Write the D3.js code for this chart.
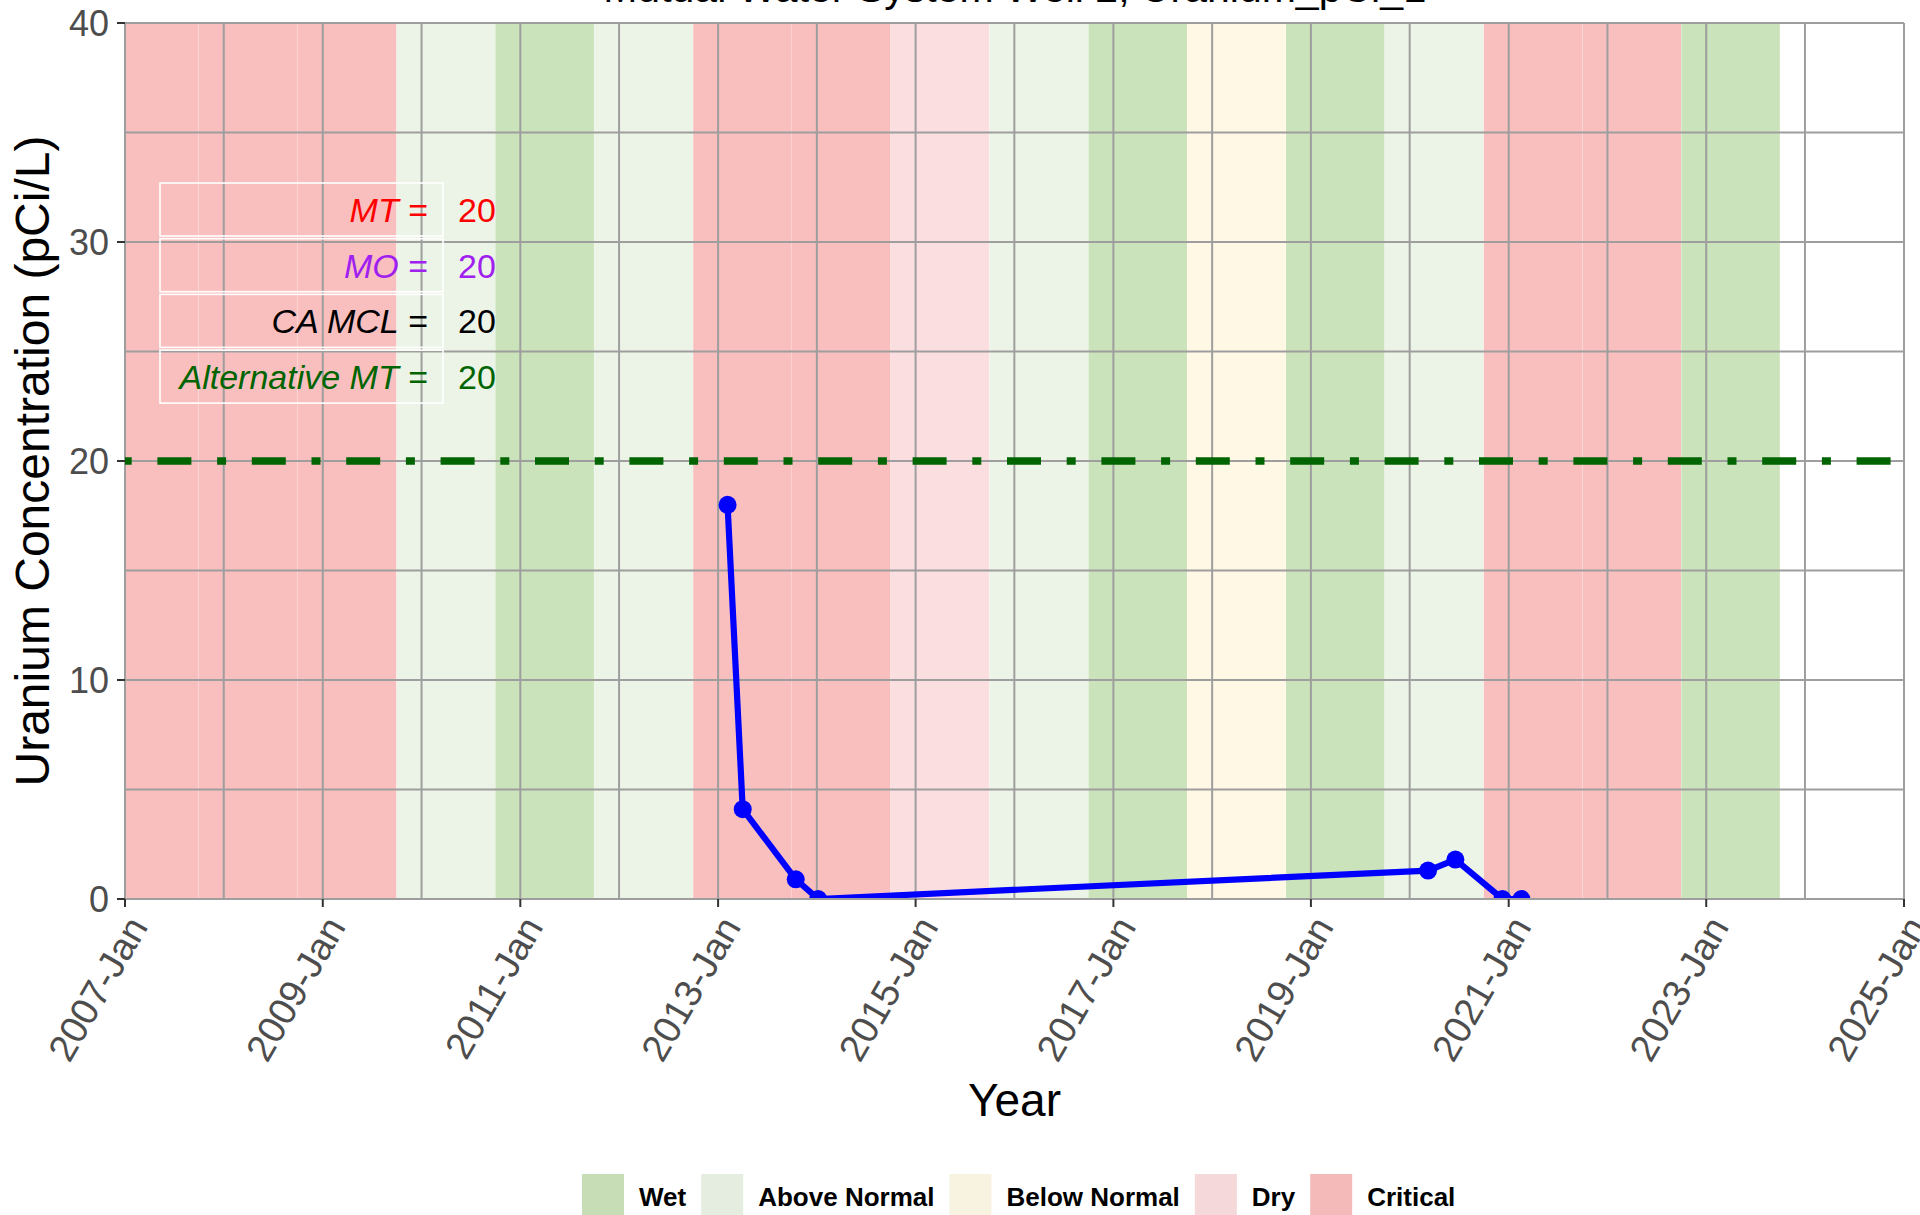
<!DOCTYPE html>
<html>
<head>
<meta charset="utf-8">
<script src="https://cdn.jsdelivr.net/npm/d3@7"></script>
<style>
  html, body { margin: 0; padding: 0; background: #ffffff; }
  svg { display: block; font-family: "Liberation Sans", Arial, sans-serif; }
</style>
</head>
<body>
<svg id="chart" width="1920" height="1215"></svg>
<script>
// ---------------- data ----------------
const titleText = "Mutual Water System Well 2, Uranium_pCi_L";
const sampleDates = ["2013-02-05", "2013-04-02", "2013-10-15", "2014-01-06",
                     "2020-03-09", "2020-06-18", "2020-12-09", "2021-02-17"];
const uraniumValues = [18.0, 4.1, 0.9, 0.0, 1.3, 1.8, 0.0, 0.0];

const waterYears = [2007, 2008, 2009, 2010, 2011, 2012, 2013, 2014, 2015,
                    2016, 2017, 2018, 2019, 2020, 2021, 2022, 2023];
const waterYearTypes = ["Critical", "Critical", "Critical", "Above Normal", "Wet",
                        "Above Normal", "Critical", "Critical", "Dry", "Above Normal",
                        "Wet", "Below Normal", "Wet", "Above Normal", "Critical",
                        "Critical", "Wet"];

const legendTypes = ["Wet", "Above Normal", "Below Normal", "Dry", "Critical"];
const thresholdLabels = ["MT", "MO", "CA MCL", "Alternative MT"];
const thresholdValues = [20, 20, 20, 20];
const xTickYears = [2007, 2009, 2011, 2013, 2015, 2017, 2019, 2021, 2023, 2025];
const xGridYears = [2007, 2008, 2009, 2010, 2011, 2012, 2013, 2014, 2015, 2016,
                    2017, 2018, 2019, 2020, 2021, 2022, 2023, 2024, 2025];
const yTicksMajor = [0, 10, 20, 30, 40];
const yTicksMinor = [5, 15, 25, 35];

// ---------------- styles ----------------
const bandFill = {
  "Wet": "#cae3ba", "Above Normal": "#ecf4e7", "Below Normal": "#fff8e5",
  "Dry": "#fbdee0", "Critical": "#f9bfbf"
};
const keyFill = {
  "Wet": "#c6ddb5", "Above Normal": "#e5ede1", "Below Normal": "#f8f2e0",
  "Dry": "#f5d8da", "Critical": "#f4baba"
};
const thresholdColors = ["#ff0000", "#a020f0", "#000000", "#006400"];

const svg = d3.select("#chart");
const P = { left: 125, right: 1904, top: 23, bottom: 899 };

const x = d3.scaleUtc()
  .domain([new Date(Date.UTC(2007, 0, 1)), new Date(Date.UTC(2025, 0, 1))])
  .range([P.left, P.right]);
const y = d3.scaleLinear().domain([0, 40]).range([P.bottom, P.top]);

svg.append("defs").append("clipPath").attr("id", "panel")
  .append("rect").attr("x", P.left).attr("y", P.top)
  .attr("width", P.right - P.left).attr("height", P.bottom - P.top);

// title (mostly cut off at the top, as in the reference)
svg.append("text")
  .attr("x", (P.left + P.right) / 2).attr("y", 2)
  .attr("text-anchor", "middle").attr("font-size", 41).attr("fill", "#000")
  .text(titleText);

// layers
const bandLayer = svg.append("g").attr("clip-path", "url(#panel)");
const gridLayer = svg.append("g");
const markLayer = svg.append("g").attr("clip-path", "url(#panel)");

// water-year bands
const bands = waterYears.map((wy, i) => ({
  start: d3.max([new Date(Date.UTC(wy - 1, 9, 1)), x.domain()[0]]),
  end: new Date(Date.UTC(wy, 8, 30)),
  type: waterYearTypes[i]
}));
bandLayer.selectAll("rect.band").data(bands).join("rect")
  .attr("class", "band")
  .attr("x", d => x(d.start)).attr("width", d => x(d.end) - x(d.start))
  .attr("y", P.top).attr("height", P.bottom - P.top)
  .attr("fill", d => bandFill[d.type]);

// grid
const gridColor = "#9e9e9e";
const yearDate = yr => new Date(Date.UTC(yr, 0, 1));
gridLayer.selectAll("line.vx").data(xGridYears).join("line")
  .attr("x1", d => x(yearDate(d))).attr("x2", d => x(yearDate(d)))
  .attr("y1", P.top).attr("y2", P.bottom)
  .attr("stroke", gridColor).attr("stroke-width", 2);
gridLayer.selectAll("line.hy").data(yTicksMajor.concat(yTicksMinor)).join("line")
  .attr("x1", P.left).attr("x2", P.right)
  .attr("y1", d => y(d)).attr("y2", d => y(d))
  .attr("stroke", gridColor).attr("stroke-width", 2);

// threshold line (dot-dash, dark green)
markLayer.append("line")
  .attr("x1", P.left).attr("x2", P.right)
  .attr("y1", y(thresholdValues[3])).attr("y2", y(thresholdValues[3]))
  .attr("stroke", "#006400").attr("stroke-width", 7.5)
  .attr("stroke-dasharray", "34,25.7,9,25.7").attr("stroke-dashoffset", 62);

// data
const data = sampleDates.map((d, i) => ({ date: new Date(d + "T00:00:00Z"), value: uraniumValues[i] }));
const line = d3.line().x(d => x(d.date)).y(d => y(d.value));
markLayer.append("path").datum(data)
  .attr("d", line).attr("fill", "none")
  .attr("stroke", "#0000ff").attr("stroke-width", 6.2)
  .attr("stroke-linejoin", "round");
markLayer.selectAll("circle.pt").data(data).join("circle")
  .attr("cx", d => x(d.date)).attr("cy", d => y(d.value)).attr("r", 9)
  .attr("fill", "#0000ff");

// threshold table
const tbl = svg.append("g");
thresholdLabels.forEach((lab, i) => {
  const top = 183 + i * 55.7;
  tbl.append("rect").attr("x", 160).attr("y", top).attr("width", 283).attr("height", 53)
    .attr("fill", "none").attr("stroke", "#ffffff").attr("stroke-width", 1.6);
  const t = tbl.append("text").attr("x", 428).attr("y", top + 39)
    .attr("text-anchor", "end").attr("font-size", 34).attr("fill", thresholdColors[i]);
  t.append("tspan").attr("font-style", "italic").text(lab);
  t.append("tspan").text(" =");
  tbl.append("text").attr("x", 458).attr("y", top + 39)
    .attr("font-size", 34).attr("fill", thresholdColors[i]).text(thresholdValues[i]);
});

// axes
const axisColor = "#333333", tickText = "#4d4d4d";
const gx = svg.append("g").attr("transform", `translate(0,${P.bottom})`);
gx.append("line").attr("x1", P.left).attr("x2", P.right).attr("y1", 0).attr("y2", 0)
  .attr("stroke", gridColor).attr("stroke-width", 2);
gx.selectAll("line.tk").data(xTickYears).join("line")
  .attr("x1", d => x(yearDate(d))).attr("x2", d => x(yearDate(d))).attr("y1", 0).attr("y2", 8)
  .attr("stroke", axisColor).attr("stroke-width", 2);
const fmt = d3.utcFormat("%Y-%b");
gx.selectAll("text.tl").data(xTickYears).join("text")
  .attr("transform", d => `translate(${x(yearDate(d))},14) rotate(-60)`)
  .attr("text-anchor", "end").attr("dy", "0.72em")
  .attr("font-size", 38).attr("fill", tickText)
  .text(d => fmt(yearDate(d)));

const gy = svg.append("g");
gy.selectAll("line.tk").data(yTicksMajor).join("line")
  .attr("x1", P.left - 8).attr("x2", P.left).attr("y1", d => y(d)).attr("y2", d => y(d))
  .attr("stroke", axisColor).attr("stroke-width", 2);
gy.selectAll("text.tl").data(yTicksMajor).join("text")
  .attr("x", P.left - 16).attr("y", d => y(d)).attr("dy", "0.36em")
  .attr("text-anchor", "end").attr("font-size", 36).attr("fill", tickText)
  .text(d => d);

svg.append("text")
  .attr("transform", `translate(49,${(P.top + P.bottom) / 2}) rotate(-90)`)
  .attr("text-anchor", "middle").attr("font-size", 48).attr("fill", "#000")
  .text("Uranium Concentration (pCi/L)");
svg.append("text")
  .attr("x", (P.left + P.right) / 2).attr("y", 1116)
  .attr("text-anchor", "middle").attr("font-size", 46).attr("fill", "#000")
  .text("Year");

// legend
const lg = svg.append("g");
let lx = 582;
legendTypes.forEach(t => {
  lg.append("rect").attr("x", lx).attr("y", 1174).attr("width", 42).attr("height", 42)
    .attr("fill", keyFill[t]);
  const tx = lg.append("text").attr("x", lx + 57).attr("y", 1205.5)
    .attr("font-size", 26).attr("font-weight", "bold").attr("fill", "#000").text(t);
  lx = lx + 57 + tx.node().getComputedTextLength() + 15;
});
</script>
</body>
</html>
